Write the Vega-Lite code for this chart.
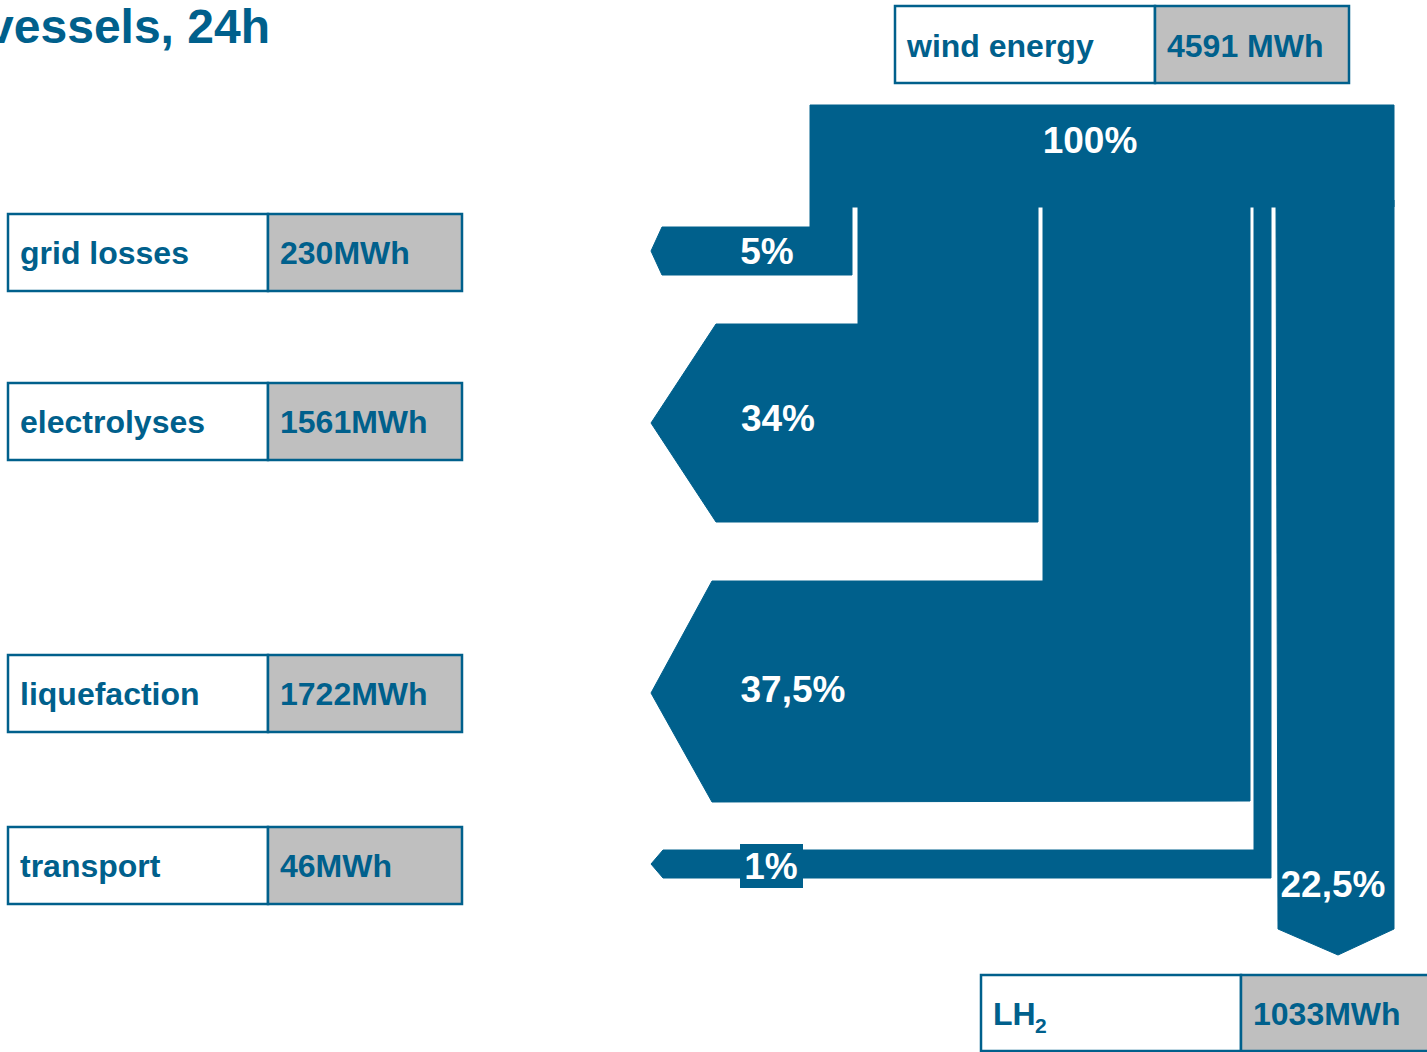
{
  "$schema": "https://vega.github.io/schema/vega-lite/v6.json",
  "autosize": "none",
  "width": 1427,
  "height": 1052,
  "padding": 0,
  "background": "white",
  "config": {"view": {"stroke": null}, "text": {"font": "Liberation Sans", "fontWeight": "bold"}},
  "datasets": {
    "flows": [
      {"flow": "grid losses", "i": 1, "x": 810, "y": 105},
      {"flow": "grid losses", "i": 2, "x": 1394, "y": 105},
      {"flow": "grid losses", "i": 3, "x": 1394, "y": 207},
      {"flow": "grid losses", "i": 4, "x": 852, "y": 207},
      {"flow": "grid losses", "i": 5, "x": 852, "y": 275},
      {"flow": "grid losses", "i": 6, "x": 662, "y": 275},
      {"flow": "grid losses", "i": 7, "x": 651, "y": 251},
      {"flow": "grid losses", "i": 8, "x": 662, "y": 227},
      {"flow": "grid losses", "i": 9, "x": 810, "y": 227},
      {"flow": "electrolyses", "i": 1, "x": 858, "y": 200},
      {"flow": "electrolyses", "i": 2, "x": 1038, "y": 200},
      {"flow": "electrolyses", "i": 3, "x": 1038, "y": 522},
      {"flow": "electrolyses", "i": 4, "x": 716, "y": 522},
      {"flow": "electrolyses", "i": 5, "x": 651, "y": 423},
      {"flow": "electrolyses", "i": 6, "x": 716, "y": 324},
      {"flow": "electrolyses", "i": 7, "x": 858, "y": 324},
      {"flow": "liquefaction", "i": 1, "x": 1043, "y": 200},
      {"flow": "liquefaction", "i": 2, "x": 1250, "y": 200},
      {"flow": "liquefaction", "i": 3, "x": 1250, "y": 801},
      {"flow": "liquefaction", "i": 4, "x": 712, "y": 802},
      {"flow": "liquefaction", "i": 5, "x": 651, "y": 693},
      {"flow": "liquefaction", "i": 6, "x": 712, "y": 581},
      {"flow": "liquefaction", "i": 7, "x": 1043, "y": 581},
      {"flow": "transport", "i": 1, "x": 1254, "y": 200},
      {"flow": "transport", "i": 2, "x": 1271, "y": 200},
      {"flow": "transport", "i": 3, "x": 1271, "y": 878},
      {"flow": "transport", "i": 4, "x": 663, "y": 878},
      {"flow": "transport", "i": 5, "x": 651, "y": 864},
      {"flow": "transport", "i": 6, "x": 663, "y": 850},
      {"flow": "transport", "i": 7, "x": 1254, "y": 850},
      {"flow": "LH2", "i": 1, "x": 1276, "y": 200},
      {"flow": "LH2", "i": 2, "x": 1394, "y": 200},
      {"flow": "LH2", "i": 3, "x": 1394, "y": 929},
      {"flow": "LH2", "i": 4, "x": 1338, "y": 955},
      {"flow": "LH2", "i": 5, "x": 1278, "y": 929}
    ],
    "boxes": [
      {"name": "wind energy", "amount": "4591 MWh", "xl": 895, "xm": 1155, "xr": 1349, "yt": 6, "yb": 83, "ym": 47},
      {"name": "grid losses", "amount": "230MWh", "xl": 8, "xm": 268, "xr": 462, "yt": 214, "yb": 291, "ym": 254},
      {"name": "electrolyses", "amount": "1561MWh", "xl": 8, "xm": 268, "xr": 462, "yt": 383, "yb": 460, "ym": 423},
      {"name": "liquefaction", "amount": "1722MWh", "xl": 8, "xm": 268, "xr": 462, "yt": 655, "yb": 732, "ym": 695},
      {"name": "transport", "amount": "46MWh", "xl": 8, "xm": 268, "xr": 462, "yt": 827, "yb": 904, "ym": 867},
      {"name": "LH", "amount": "1033MWh", "xl": 981, "xm": 1241, "xr": 1440, "yt": 975, "yb": 1051, "ym": 1015}
    ],
    "shares": [
      {"pct": "100%", "x": 1090, "y": 142},
      {"pct": "5%", "x": 767, "y": 253},
      {"pct": "34%", "x": 778, "y": 420},
      {"pct": "37,5%", "x": 793, "y": 691},
      {"pct": "1%", "x": 771, "y": 868},
      {"pct": "22,5%", "x": 1333, "y": 886}
    ],
    "tag": [{"x": 740, "x2": 803, "y": 844, "y2": 888}],
    "sub": [{"t": "2", "x": 1035, "y": 1027}],
    "title": [{"t": "vessels, 24h", "x": 270, "y": 29}]
  },
  "layer": [
    {
      "data": {"name": "flows"},
      "mark": {"type": "line", "interpolate": "linear-closed", "fill": "#00608C", "stroke": "#00608C", "strokeWidth": 1},
      "encoding": {
        "x": {"field": "x", "type": "quantitative", "scale": {"domain": [0, 1427], "nice": false, "zero": false}, "axis": null},
        "y": {"field": "y", "type": "quantitative", "scale": {"domain": [0, 1052], "nice": false, "zero": false, "reverse": true}, "axis": null},
        "detail": {"field": "flow"},
        "order": {"field": "i", "type": "quantitative"}
      }
    },
    {
      "data": {"name": "tag"},
      "mark": {"type": "rect", "fill": "#00608C"},
      "encoding": {
        "x": {"field": "x", "type": "quantitative"},
        "x2": {"field": "x2"},
        "y": {"field": "y", "type": "quantitative"},
        "y2": {"field": "y2"}
      }
    },
    {
      "data": {"name": "boxes"},
      "mark": {"type": "rect", "fill": "white", "stroke": "#00608C", "strokeWidth": 2.5},
      "encoding": {
        "x": {"field": "xl", "type": "quantitative"},
        "x2": {"field": "xm"},
        "y": {"field": "yt", "type": "quantitative"},
        "y2": {"field": "yb"}
      }
    },
    {
      "data": {"name": "boxes"},
      "mark": {"type": "rect", "fill": "#BFBFBF", "stroke": "#00608C", "strokeWidth": 2.5, "clip": true},
      "encoding": {
        "x": {"field": "xm", "type": "quantitative"},
        "x2": {"field": "xr"},
        "y": {"field": "yt", "type": "quantitative"},
        "y2": {"field": "yb"}
      }
    },
    {
      "data": {"name": "boxes"},
      "mark": {"type": "text", "align": "left", "baseline": "middle", "dx": 12, "fontSize": 32, "color": "#00608C"},
      "encoding": {
        "x": {"field": "xl", "type": "quantitative"},
        "y": {"field": "ym", "type": "quantitative"},
        "text": {"field": "name"}
      }
    },
    {
      "data": {"name": "boxes"},
      "mark": {"type": "text", "align": "left", "baseline": "middle", "dx": 12, "fontSize": 32, "color": "#00608C"},
      "encoding": {
        "x": {"field": "xm", "type": "quantitative"},
        "y": {"field": "ym", "type": "quantitative"},
        "text": {"field": "amount"}
      }
    },
    {
      "data": {"name": "sub"},
      "mark": {"type": "text", "align": "left", "baseline": "middle", "fontSize": 21, "color": "#00608C"},
      "encoding": {
        "x": {"field": "x", "type": "quantitative"},
        "y": {"field": "y", "type": "quantitative"},
        "text": {"field": "t"}
      }
    },
    {
      "data": {"name": "shares"},
      "mark": {"type": "text", "align": "center", "baseline": "middle", "fontSize": 37, "color": "white"},
      "encoding": {
        "x": {"field": "x", "type": "quantitative"},
        "y": {"field": "y", "type": "quantitative"},
        "text": {"field": "pct"}
      }
    },
    {
      "data": {"name": "title"},
      "mark": {"type": "text", "align": "right", "baseline": "middle", "fontSize": 48, "color": "#00608C"},
      "encoding": {
        "x": {"field": "x", "type": "quantitative"},
        "y": {"field": "y", "type": "quantitative"},
        "text": {"field": "t"}
      }
    }
  ]
}
